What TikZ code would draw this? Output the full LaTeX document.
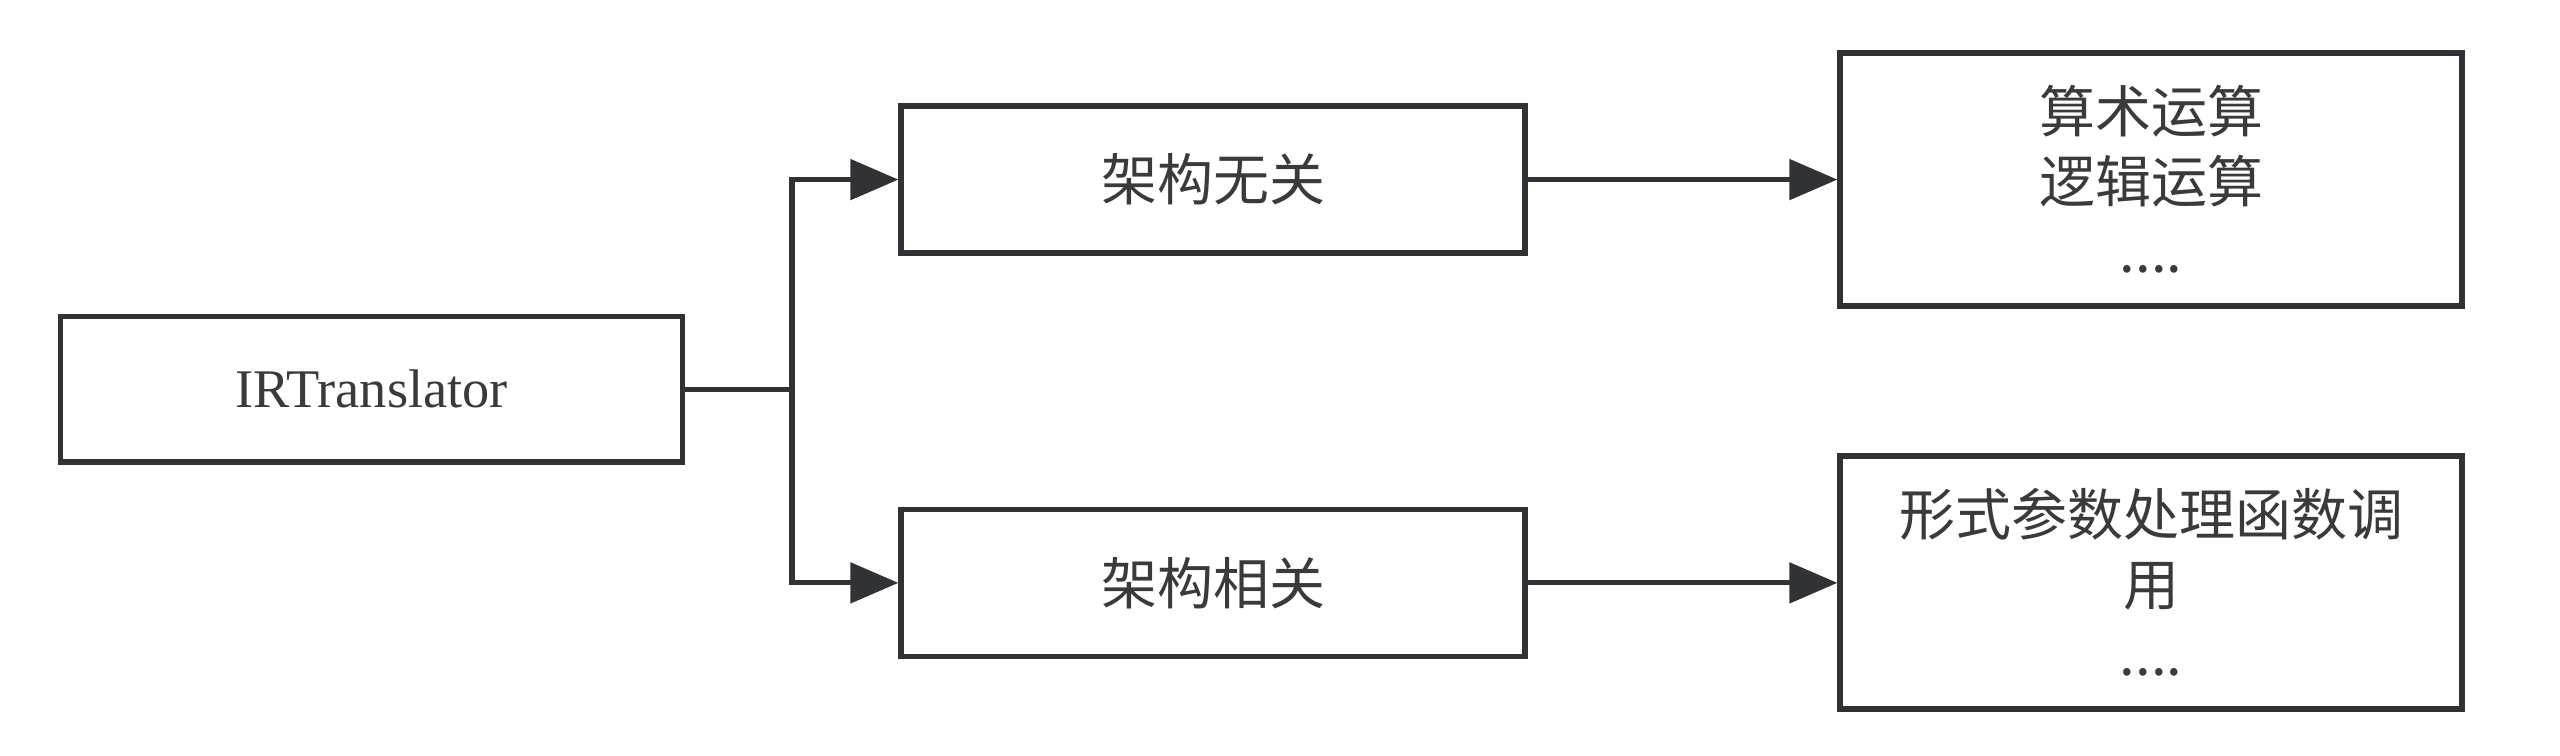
\documentclass[tikz,border=0pt]{standalone}
\usepackage{fontspec}
\setmainfont{Liberation Serif}
\newfontfamily\cjk{Noto Sans CJK SC}
\usetikzlibrary{arrows.meta}
\definecolor{ink}{HTML}{303236}
\definecolor{txt}{HTML}{3A3A3A}
\begin{document}
\begin{tikzpicture}[x=0.25pt,y=-0.25pt,
  box/.style={draw=ink, line width=1.3pt, fill=white, inner sep=0pt, align=center,
    text=txt, font=\cjk\fontsize{14}{17.5}\selectfont},
  wire/.style={draw=ink, line width=1.3pt},
  link/.style={wire, -{Triangle[length=12pt,width=10pt]}}]
\useasboundingbox (0,0) rectangle (2560,756);
\node[box, minimum width=155.5pt, minimum height=36.3pt,
  font=\rmfamily\fontsize{13.6}{16}\selectfont] (ir) at (371.5,389.4) {IRTranslator};
\node[box, minimum width=156pt, minimum height=36.75pt] (a1) at (1213,179.6) {架构无关};
\node[box, minimum width=156pt, minimum height=36.75pt] (a2) at (1213,582.9) {架构相关};
\node[box, minimum width=155.5pt, minimum height=63.25pt] (r1) at (2151,179.6) {算术运算\\逻辑运算\\....};
\node[box, minimum width=155.5pt, minimum height=63.25pt] (r2) at (2151,582.5) {形式参数处理函数调\\用\\....};
\coordinate (j) at (792,389.4);
\draw[wire] (ir.east) -- (j);
\draw[link] (j) |- (a1.west);
\draw[link] (j) |- (a2.west);
\draw[link] (a1.east) -- (a1.east -| r1.west);
\draw[link] (a2.east) -- (a2.east -| r2.west);
\end{tikzpicture}
\end{document}
